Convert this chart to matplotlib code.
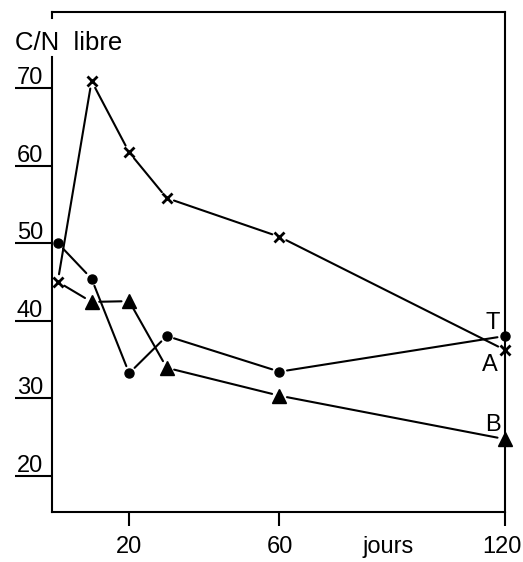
import matplotlib
matplotlib.use("Agg")
import matplotlib.pyplot as plt

plt.rcParams['font.family'] = ['Liberation Sans', 'DejaVu Sans']

# C/N libre over time (jours) for treatments T, A, B
days = [1, 10, 20, 30, 60, 120]
cn_T = [50.0, 45.4, 33.2, 38.0, 33.4, 38.0]
cn_A = [45.0, 70.9, 61.7, 55.8, 50.8, 36.2]
cn_B = [45.0, 42.4, 42.5, 33.9, 30.3, 24.7]

yticks = [20, 30, 40, 50, 60, 70]
xticks = [20, 60, 120]

lw = 1.5
fig = plt.figure(figsize=(5.23, 5.62), dpi=100)
ax = fig.add_axes([0.0994, 0.089, 0.8662, 0.8896])
ax.set_xlim(-0.53, 120)
ax.set_ylim(15.3, 79.8)


def broken_line(x, y, gap=5.5):
    # segments stop a little short of each marker, like the hand-inked curves
    for i in range(len(x) - 1):
        ax.annotate('', xy=(x[i + 1], y[i + 1]), xytext=(x[i], y[i]),
                    arrowprops=dict(arrowstyle='-', lw=lw, color='black',
                                    shrinkA=gap, shrinkB=gap),
                    annotation_clip=False)


broken_line(days, cn_T)
broken_line(days, cn_A)
broken_line(days, cn_B)

ax.plot(days, cn_T, ls='none', marker='o', ms=6.5, color='black', clip_on=False)
ax.plot(days, cn_A, ls='none', marker='x', ms=7, mew=2, color='black', clip_on=False)
ax.plot(days[1:], cn_B[1:], ls='none', marker='^', ms=10, color='black', clip_on=False)

lab = dict(fontsize=17, ha='center', va='center')
ax.text(116.8, 39.7, 'T', **lab)
ax.text(115.9, 34.3, 'A', **lab)
ax.text(116.8, 26.5, 'B', **lab)

for s in ax.spines.values():
    s.set_linewidth(lw)
ax.spines['left'].set_bounds(15.3, 74.0)
# short stub of the left frame above the axis title
ax.plot([0, 0], [79.8, 79.0], color='black', lw=lw,
        transform=ax.get_yaxis_transform(), clip_on=False)

ax.set_xticks(xticks)
ax.set_xticklabels([])
ax.tick_params(axis='x', direction='out', length=10, width=lw)
xt = ax.get_xaxis_transform()
for v in xticks:
    # keep the last label inside the figure edge
    ax.text(min(v, 119.3), -0.082, str(v), transform=xt,
            ha='center', va='baseline', fontsize=17)
ax.set_yticks(yticks)
ax.set_yticklabels([])
ax.tick_params(axis='y', direction='out', length=27, width=lw)
for v in yticks:
    ax.text(-0.02, v + 0.5, str(v), transform=ax.get_yaxis_transform(),
            ha='right', va='baseline', fontsize=17)

ax.text(89, -0.082, 'jours', transform=xt, ha='center', va='baseline', fontsize=17)
fig.text(15 / 523, 1 - 50 / 562, 'C/N  libre', ha='left', va='baseline', fontsize=18.5)

fig.savefig('out.png', dpi=100)
